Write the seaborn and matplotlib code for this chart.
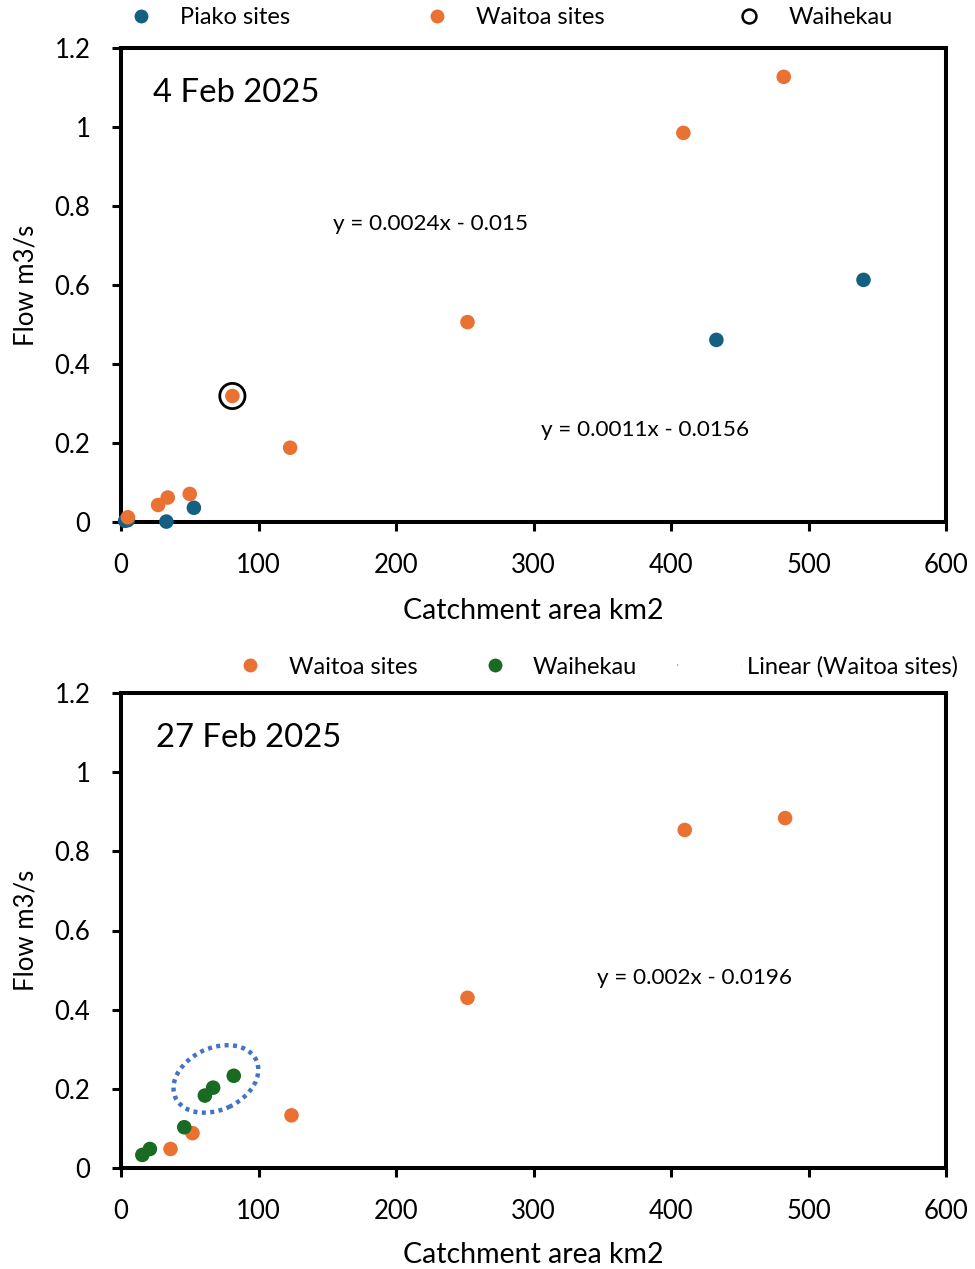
import numpy as np
import pandas as pd
import seaborn as sns
import matplotlib.pyplot as plt
from matplotlib.lines import Line2D
from matplotlib.patches import Ellipse
from matplotlib import transforms

# ---------------- data ----------------
# 4 Feb 2025
piako_area_feb4 = [3, 5, 33, 53, 433, 540]
piako_flow_feb4 = [0.003, 0.005, 0.001, 0.036, 0.461, 0.613]
waitoa_area_feb4 = [5, 27, 34, 50, 81, 123, 252, 409, 482]
waitoa_flow_feb4 = [0.012, 0.043, 0.062, 0.071, 0.319, 0.188, 0.506, 0.985, 1.127]
waihekau_area_feb4 = [81]
waihekau_flow_feb4 = [0.319]
eq_waitoa_feb4 = "y = 0.0024x - 0.015"
eq_piako_feb4 = "y = 0.0011x - 0.0156"

# 27 Feb 2025
waitoa_area_feb27 = [36, 52, 124, 252, 410, 483]
waitoa_flow_feb27 = [0.048, 0.088, 0.133, 0.43, 0.854, 0.884]
waihekau_area_feb27 = [15.5, 21, 46, 61, 67, 82]
waihekau_flow_feb27 = [0.033, 0.048, 0.103, 0.183, 0.203, 0.233]
eq_waitoa_feb27 = "y = 0.002x - 0.0196"

x_ticks = [0, 100, 200, 300, 400, 500, 600]
y_ticks = [0, 0.2, 0.4, 0.6, 0.8, 1, 1.2]
y_tick_labels = ["0", "0.2", "0.4", "0.6", "0.8", "1", "1.2"]

BLUE = "#156082"
ORANGE = "#E97132"
GREEN = "#196B24"
ELL = "#4472C4"

sns.set_theme(style="white")
plt.rcParams["font.family"] = ["Lato", "DejaVu Sans"]

W, H = 975, 1269
fig = plt.figure(figsize=(W / 100, H / 100), dpi=100)
ax1 = fig.add_axes([121/W, 1-522/H, 825/W, 474/H])
ax2 = fig.add_axes([121/W, 1-1168/H, 825/W, 475/H])

def style_axes(ax, xl_y):
    ax.set_xlim(0, 600)
    ax.set_ylim(0, 1.2)
    ax.set_xticks(x_ticks)
    ax.set_yticks(y_ticks)
    ax.set_yticklabels(y_tick_labels)
    for s in ax.spines.values():
        s.set_visible(True)
        s.set_color("black")
        s.set_linewidth(2.9)
    ax.tick_params(axis="both", which="both", direction="out", length=6.5, width=2.2,
                   color="black", labelsize=18.5, labelcolor="black",
                   bottom=True, left=True)
    ax.tick_params(axis="x", pad=15.5)
    ax.tick_params(axis="y", pad=15.5)
    ax.set_xlabel("Catchment area km2", fontsize=20.5, color="black")
    ax.set_ylabel("Flow m3/s", fontsize=18.5, color="black")
    ax.xaxis.set_label_coords(0.5, xl_y)
    ax.yaxis.set_label_coords(-0.1006, 0.5)

LFS = 17
def item_legend(handle, label, x_px, y_px, hl=1.2, pad=1.06):
    fig.legend([handle], [label], loc="center left",
               bbox_to_anchor=(x_px / W, 1 - y_px / H), frameon=False, fontsize=LFS,
               borderpad=0, borderaxespad=0, handletextpad=pad, handlelength=hl,
               labelcolor="black")

S = 110

# ---- top panel ----
df_p = pd.DataFrame({"area": piako_area_feb4, "flow": piako_flow_feb4})
df_w = pd.DataFrame({"area": waitoa_area_feb4, "flow": waitoa_flow_feb4})
df_h = pd.DataFrame({"area": waihekau_area_feb4, "flow": waihekau_flow_feb4})
sns.scatterplot(data=df_p, x="area", y="flow", ax=ax1, color=BLUE, s=S,
                edgecolor="none", zorder=3, clip_on=False, legend=False)
sns.scatterplot(data=df_w, x="area", y="flow", ax=ax1, color=ORANGE, s=S,
                edgecolor="none", zorder=4, clip_on=False, legend=False)
sns.scatterplot(data=df_h, x="area", y="flow", ax=ax1, facecolor="none", s=330,
                edgecolor="black", linewidth=2, zorder=5, legend=False)
style_axes(ax1, (522 - 598) / 474)
ax1.text(0.0388, 0.905, "4 Feb 2025", transform=ax1.transAxes, fontsize=23.7,
         va="center", ha="left", color="black")
ax1.text(225, 0.754, eq_waitoa_feb4, fontsize=16.2, ha="center", va="center", color="black")
ax1.text(381, 0.233, eq_piako_feb4, fontsize=16.2, ha="center", va="center", color="black")

mk = dict(marker="o", ls="", markersize=10, markeredgewidth=0)
item_legend(Line2D([], [], color=BLUE, **mk), "Piako sites", 127, 18)
item_legend(Line2D([], [], color=ORANGE, **mk), "Waitoa sites", 423, 18)
item_legend(Line2D([], [], marker="o", ls="", markerfacecolor="none", markeredgecolor="black",
                   markeredgewidth=1.8, markersize=10), "Waihekau", 735, 18)

# ---- bottom panel ----
df_w2 = pd.DataFrame({"area": waitoa_area_feb27, "flow": waitoa_flow_feb27})
df_h2 = pd.DataFrame({"area": waihekau_area_feb27, "flow": waihekau_flow_feb27})
sns.scatterplot(data=df_w2, x="area", y="flow", ax=ax2, color=ORANGE, s=S,
                edgecolor="none", zorder=3, legend=False)
sns.scatterplot(data=df_h2, x="area", y="flow", ax=ax2, color=GREEN, s=S,
                edgecolor="none", zorder=4, legend=False)
style_axes(ax2, (1168 - 1242) / 475)
ax2.text(0.0424, 0.905, "27 Feb 2025", transform=ax2.transAxes, fontsize=23.7,
         va="center", ha="left", color="black")
ax2.text(417, 0.48, eq_waitoa_feb27, fontsize=16.2, ha="center", va="center", color="black")

# dotted ellipse around the upper Waihekau sites (size in inches, centred in data coords)
tr = fig.dpi_scale_trans + transforms.ScaledTranslation(69, 0.225, ax2.transData)
ell = Ellipse((0, 0), 0.89, 0.62, angle=25, fill=False, edgecolor=ELL,
              linewidth=3.2, linestyle=(0, (0.9, 1.0)), transform=tr, zorder=6)
ax2.add_patch(ell)

item_legend(Line2D([], [], color=ORANGE, **mk), "Waitoa sites", 236, 667)
item_legend(Line2D([], [], color=GREEN, **mk), "Waihekau", 481, 667, pad=1.0)
item_legend(Line2D([], [], ls=(0, (0.6, 30.5)), color="#F0A070", lw=1.5),
            "Linear (Waitoa sites)", 677, 667, hl=2.75, pad=0.2)

fig.savefig("out.png", dpi=100, facecolor="white")
